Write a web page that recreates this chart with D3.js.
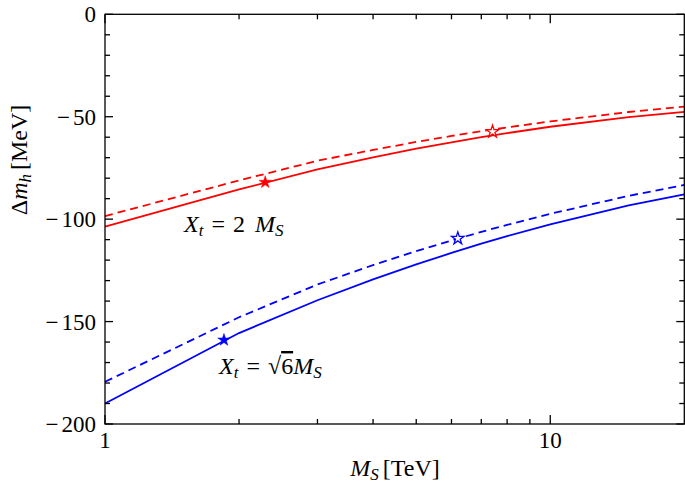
<!DOCTYPE html>
<html><head><meta charset="utf-8">
<script src="https://cdn.jsdelivr.net/npm/d3@7"></script>
<style>
body{margin:0;background:#fff;}
text{font-family:"Liberation Serif","DejaVu Serif",serif;fill:#000;}
</style></head>
<body>
<svg id="c" width="685" height="485"></svg>
<script>
// ---- data ----
const msValues   = [1, 2, 3, 4, 5, 6, 7, 8, 10, 15, 20];
const redSolid   = [-103.7, -85.5, -75.7, -69.8, -65.6, -62.5, -60.0, -58.0, -54.9, -50.2, -47.6];
const redDashed  = [-98.5, -81.1, -71.5, -66.2, -62.3, -59.4, -57.1, -55.2, -52.3, -47.7, -45.1];
const blueSolid  = [-190.0, -155.6, -139.6, -129.4, -122.1, -116.5, -112.0, -108.3, -102.5, -93.3, -87.9];
const blueDashed = [-179.4, -147.9, -131.9, -122.4, -115.6, -110.4, -106.2, -102.8, -97.4, -88.6, -83.3];
const starX      = [2.29, 7.42, 1.85, 6.2];
const starY      = [-82.0, -57.3, -159.0, -109.4];
const starFilled = [true, false, true, false];
const starColor  = ["red", "red", "blue", "blue"];
const xTickLabels = [1, 10];
const yTickLabels = [0, -50, -100, -150, -200];

// ---- layout ----
const L = 105, R = 684.3, T = 14.3, B = 424;
const svg = d3.select("#c");
const x = d3.scaleLog().domain([1, 20]).range([L, R]);
const y = d3.scaleLinear().domain([-200, 0]).range([B, T]);

// curves
const series = [
  {v: redSolid, c: "red", dash: null},
  {v: redDashed, c: "red", dash: "8,5"},
  {v: blueSolid, c: "blue", dash: null},
  {v: blueDashed, c: "blue", dash: "8,5"}
];
const line = d3.line().x((d, i) => x(msValues[i])).y(d => y(d));
series.forEach(s => {
  svg.append("path").attr("d", line(s.v))
    .attr("fill", "none").attr("stroke", s.c).attr("stroke-width", 1.8)
    .attr("stroke-dasharray", s.dash);
});

// stars
const star = d3.symbol().type(d3.symbolStar).size(48);
starX.forEach((sx, i) => {
  svg.append("path").attr("d", star())
    .attr("transform", `translate(${x(sx)},${y(starY[i])})`)
    .attr("fill", starFilled[i] ? starColor[i] : "white")
    .attr("stroke", starColor[i]).attr("stroke-width", starFilled[i] ? 0.5 : 1.3);
});

// frame + ticks
const majorX = [1, 10];
const minorX = [2,3,4,5,6,7,8,9];
const g = svg.append("g").attr("stroke", "#000").attr("stroke-width", 1.3);
g.append("rect").attr("x", L).attr("y", T).attr("width", R - L).attr("height", B - T).attr("fill", "none");
majorX.concat(minorX).forEach(v => {
  const len = majorX.includes(v) ? 9 : 5;
  g.append("line").attr("x1", x(v)).attr("x2", x(v)).attr("y1", B).attr("y2", B - len);
  g.append("line").attr("x1", x(v)).attr("x2", x(v)).attr("y1", T).attr("y2", T + len);
});
d3.range(-200, 1, 10).forEach(v => {
  const len = v % 50 === 0 ? 8 : 5;
  g.append("line").attr("x1", L).attr("x2", L + len).attr("y1", y(v)).attr("y2", y(v));
  g.append("line").attr("x1", R).attr("x2", R - len).attr("y1", y(v)).attr("y2", y(v));
});

// tick labels
xTickLabels.forEach(v => {
  svg.append("text").attr("x", x(v)).attr("y", 448).attr("text-anchor", "middle")
    .attr("font-size", 23).text(v);
});
yTickLabels.forEach(v => {
  const t = svg.append("text").attr("x", 96).attr("y", y(v) + 8).attr("text-anchor", "end")
    .attr("font-size", 23);
  if (v === 0) t.text("0");
  else { t.append("tspan").text("\u2212"); t.append("tspan").attr("dx", 3).text(Math.abs(v)); }
});

// axis labels
const xl = svg.append("text").attr("x", 395).attr("y", 476).attr("text-anchor", "middle").attr("font-size", 24);
xl.append("tspan").attr("font-style", "italic").text("M");
xl.append("tspan").attr("font-style", "italic").attr("font-size", 17).attr("dy", 4).text("S");
xl.append("tspan").attr("dy", -4).attr("dx", 4).text("[TeV]");

const yl = svg.append("text").attr("transform", "translate(27,160) rotate(-90)").attr("text-anchor", "middle").attr("font-size", 24);
yl.append("tspan").text("\u0394");
yl.append("tspan").attr("font-style", "italic").text("m");
yl.append("tspan").attr("font-style", "italic").attr("font-size", 17).attr("dy", 4).text("h");
yl.append("tspan").attr("dy", -4).attr("dx", 4).text("[MeV]");

// annotations (flowing text with tspans)
const a1 = svg.append("text").attr("x", 184).attr("y", 232).attr("font-size", 24);
a1.append("tspan").attr("font-style", "italic").text("X");
a1.append("tspan").attr("font-style", "italic").attr("font-size", 17).attr("dy", 4).attr("dx", 0).text("t");
a1.append("tspan").attr("dy", -4).attr("dx", 8).text("=");
a1.append("tspan").attr("dx", 8).text("2");
a1.append("tspan").attr("dx", 10).attr("font-style", "italic").text("M");
a1.append("tspan").attr("font-style", "italic").attr("font-size", 17).attr("dy", 4).text("S");

const a2 = svg.append("text").attr("x", 219).attr("y", 374).attr("font-size", 24);
a2.append("tspan").attr("font-style", "italic").text("X");
a2.append("tspan").attr("font-style", "italic").attr("font-size", 17).attr("dy", 4).text("t");
a2.append("tspan").attr("dy", -4).attr("dx", 8).text("=");
a2.append("tspan").attr("dx", 8).text("\u221A");
a2.append("tspan").attr("style", "text-decoration:overline").text("6");
a2.append("tspan").attr("font-style", "italic").text("M");
a2.append("tspan").attr("font-style", "italic").attr("font-size", 17).attr("dy", 4).text("S");
</script>
</body></html>
